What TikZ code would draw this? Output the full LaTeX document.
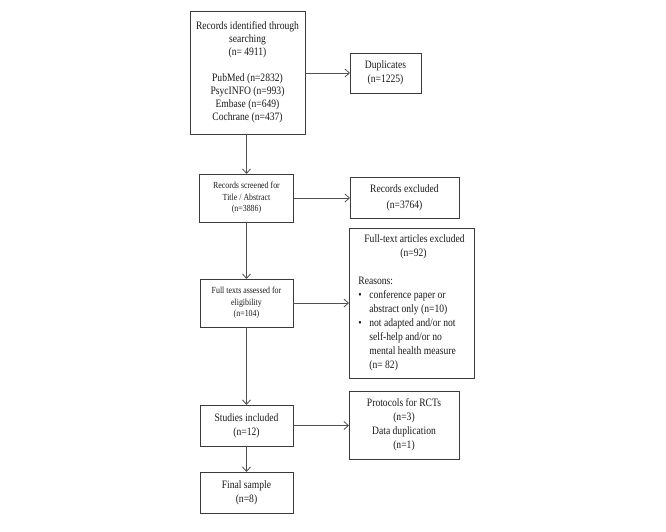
\documentclass[tikz,border=0pt]{standalone}
\usepackage{fontspec}
\newfontfamily\flowserif[FakeStretch=0.85]{Liberation Serif}
\usetikzlibrary{arrows.meta}
\definecolor{flowLine}{HTML}{3A3A3A}
\definecolor{flowArrow}{HTML}{505050}
\definecolor{flowText}{HTML}{1A1A1A}
\tikzset{
  flow diagram/.style={
    x=1pt, y=-1pt, line width=1pt,
    >={Straight Barb[length=4.5pt,width=8pt,line width=0.8pt]},
    every node/.style={font=\flowserif\fontsize{11.3}{14}\selectfont,
      text=flowText, inner sep=0pt, outer sep=0pt}
  },
  flow box/.style={draw=flowLine, align=center},
  flow small/.style={font=\flowserif\fontsize{9.3}{11.5}\selectfont},
  flow arrow/.style={->, draw=flowArrow, line width=0.9pt}
}
\newcommand{\FlowReason}[1]{\makebox[11pt][l]{\textbullet}#1}
\newcommand{\FlowCont}[1]{\hspace*{11pt}#1}

\begin{document}
\begin{tikzpicture}[flow diagram]
    \useasboundingbox (0,0) rectangle (666,531);
    \node[flow box,minimum width=115pt,minimum height=123pt,
      font=\flowserif\fontsize{11.3}{13}\selectfont] (rec) at (247.5,72.5)
      {Records identified through\\searching\\(n= 4911)\\[13pt]
       PubMed (n=2832)\\PsycINFO (n=993)\\Embase (n=649)\\Cochrane (n=437)};
    \node[flow box,minimum width=71pt,minimum height=40pt] (dup) at (385.5,73)
      {Duplicates\\(n=1225)};
    \node[flow box,flow small,minimum width=94pt,minimum height=48pt] (scr)
      at (246.5,198) {Records screened for\\Title / Abstract\\(n=3886)};
    \node[flow box,minimum width=109pt,minimum height=41pt] (exc)
      at (404.5,197.5) {Records excluded\\[2pt](n=3764)};
    \node[flow box,flow small,minimum width=93pt,minimum height=48pt] (full)
      at (246.5,303) {Full texts assessed for\\eligibility\\(n=104)};
    \node[flow box,minimum width=125pt,minimum height=150pt,align=left]
      (ftx) at (411.5,303)
      {\hspace*{6pt}Full-text articles excluded\\
       \hspace*{42pt}(n=92)\\[14pt]
       Reasons:\\
       \FlowReason{conference paper or}\\
       \FlowCont{abstract only (n=10)}\\
       \FlowReason{not adapted and/or not}\\
       \FlowCont{self-help and/or no}\\
       \FlowCont{mental health measure}\\
       \FlowCont{(n= 82)}};
    \node[flow box,minimum width=93pt,minimum height=41pt] (inc)
      at (246.5,425.5) {Studies included\\(n=12)};
    \node[flow box,minimum width=110pt,minimum height=68pt] (prot)
      at (404,425) {Protocols for RCTs\\(n=3)\\Data duplication\\(n=1)};
    \node[flow box,minimum width=93pt,minimum height=41pt] (fin)
      at (246.5,492.5) {Final sample\\(n=8)};
    \draw[flow arrow] (rec.east |- dup) -- (dup.west);
    \draw[flow arrow] (rec.south -| scr) -- (scr.north);
    \draw[flow arrow] (scr.east) -- (exc.west |- scr);
    \draw[flow arrow] (scr) -- (full);
    \draw[flow arrow] (full.east) -- (ftx.west |- full);
    \draw[flow arrow] (full) -- (inc);
    \draw[flow arrow] (inc.east) -- (prot.west |- inc);
    \draw[flow arrow] (inc) -- (fin);
\end{tikzpicture}
\end{document}
